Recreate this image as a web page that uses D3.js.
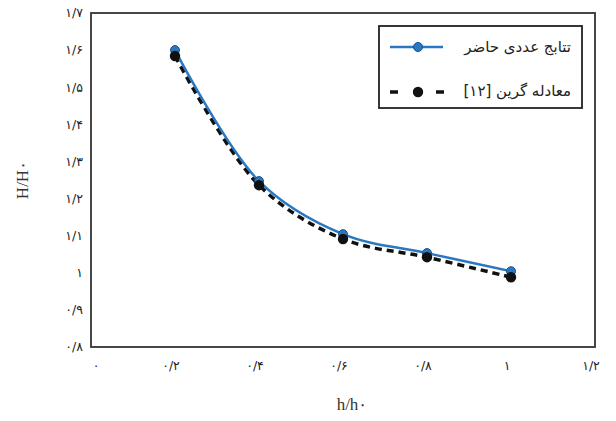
<!DOCTYPE html>
<html><head><meta charset="utf-8">
<script src="https://cdn.jsdelivr.net/npm/d3@7"></script>
<style>body{margin:0;background:#fff}svg{display:block}</style>
</head><body>
<svg id="c" width="616" height="421"></svg>
<script>
const xValues = [0.2, 0.4, 0.6, 0.8, 1.0];
const presentResults = [1.600, 1.247, 1.104, 1.053, 1.004];
const greenEquation = [1.584, 1.236, 1.091, 1.042, 0.988];
const xTicks = [0, 0.2, 0.4, 0.6, 0.8, 1.0, 1.2];
const xTickLabels = ["۰", "۰/۲", "۰/۴", "۰/۶", "۰/۸", "۱", "۱/۲"];
const yTicks = [0.8, 0.9, 1.0, 1.1, 1.2, 1.3, 1.4, 1.5, 1.6, 1.7];
const yTickLabels = ["۰/۸", "۰/۹", "۱", "۱/۱", "۱/۲", "۱/۳", "۱/۴", "۱/۵", "۱/۶", "۱/۷"];
const seriesNames = ["تتابج عددی حاضر", "معادله گرین [۱۲]"];

const svg = d3.select("#c");
const L = 91, R = 595, T = 13, B = 347;
const x = d3.scaleLinear().domain([0, 1.2]).range([L, R]);
const y = d3.scaleLinear().domain([0.8, 1.7]).range([B, T]);
const fa = "'DejaVu Sans', sans-serif";

// y tick labels
svg.append("g").selectAll("text").data(yTicks).join("text")
  .attr("x", L - 8).attr("y", d => y(d)).attr("dy", "0.35em")
  .attr("text-anchor", "end").attr("font-family", fa).attr("font-size", 12.5)
  .attr("fill", "#222").attr("direction", "ltr")
  .text((d, i) => yTickLabels[i]);

// x tick labels
svg.append("g").selectAll("text").data(xTicks).join("text")
  .attr("x", d => x(d) + (d === 0 ? 5 : -4)).attr("y", B + 23)
  .attr("text-anchor", "middle").attr("font-family", fa).attr("font-size", 12.5)
  .attr("fill", "#222").attr("direction", "ltr")
  .text((d, i) => xTickLabels[i]);

// axis titles
svg.append("text").attr("x", 352).attr("y", 410).attr("text-anchor", "middle")
  .attr("font-family", "'Liberation Serif', serif").attr("font-size", 17).attr("fill", "#333")
  .text("h/h۰");
svg.append("text").attr("transform", "translate(28,180) rotate(-90)").attr("text-anchor", "middle")
  .attr("font-family", "'Liberation Serif', serif").attr("font-size", 17).attr("fill", "#333")
  .text("H/H۰");

const line = d3.line().curve(d3.curveCatmullRom.alpha(0.5));
const ptsB = xValues.map((v, i) => [x(v), y(presentResults[i])]);
const ptsK = xValues.map((v, i) => [x(v), y(greenEquation[i])]);

svg.append("path").attr("d", line(ptsK)).attr("fill", "none")
  .attr("stroke", "#111").attr("stroke-width", 3.5).attr("stroke-dasharray", "7,5");
svg.append("path").attr("d", line(ptsB)).attr("fill", "none")
  .attr("stroke", "#2a78c2").attr("stroke-width", 2.5);

svg.append("g").selectAll("circle").data(ptsB).join("circle")
  .attr("cx", d => d[0]).attr("cy", d => d[1]).attr("r", 4.5)
  .attr("fill", "#2a78c2").attr("stroke", "#1a4f8a").attr("stroke-width", 1);
svg.append("g").selectAll("circle").data(ptsK).join("circle")
  .attr("cx", d => d[0]).attr("cy", d => d[1]).attr("r", 5.2).attr("fill", "#111");

// plot border
svg.append("rect").attr("x", L).attr("y", T).attr("width", R - L).attr("height", B - T)
  .attr("fill", "none").attr("stroke", "#333").attr("stroke-width", 1.8);

// legend
const lg = svg.append("g");
lg.append("rect").attr("x", 379).attr("y", 26).attr("width", 203).attr("height", 82)
  .attr("fill", "#fff").attr("stroke", "#222").attr("stroke-width", 1.8);
lg.append("line").attr("x1", 390).attr("x2", 443).attr("y1", 47).attr("y2", 47)
  .attr("stroke", "#2a78c2").attr("stroke-width", 2.5);
lg.append("circle").attr("cx", 418).attr("cy", 47).attr("r", 4.5)
  .attr("fill", "#2a78c2").attr("stroke", "#1a4f8a");
lg.append("line").attr("x1", 390).attr("x2", 445).attr("y1", 92).attr("y2", 92)
  .attr("stroke", "#111").attr("stroke-width", 3.5).attr("stroke-dasharray", "8,15");
lg.append("circle").attr("cx", 418).attr("cy", 92).attr("r", 5.2).attr("fill", "#111");
lg.selectAll("text.n").data(seriesNames).join("text")
  .attr("x", 571).attr("y", (d, i) => i === 0 ? 47 : 91).attr("dy", "0.35em")
  .attr("text-anchor", "start").attr("direction", "rtl")
  .attr("font-family", fa).attr("font-size", 15).attr("fill", "#222")
  .text(d => d);
</script>
</body></html>
